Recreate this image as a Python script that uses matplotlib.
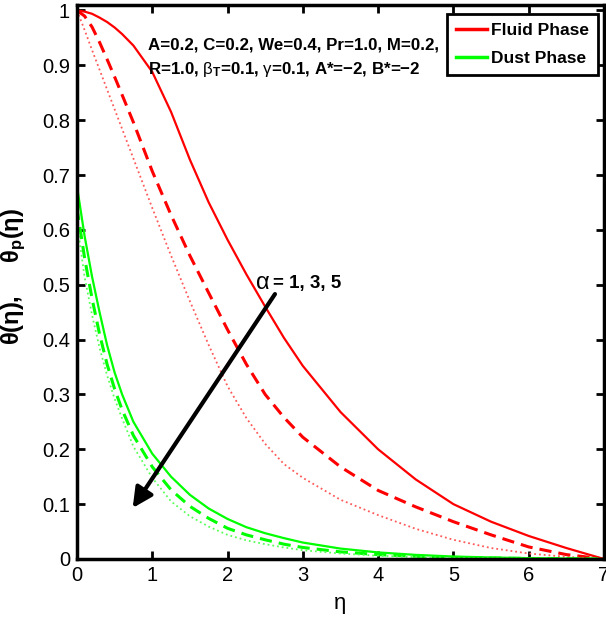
import matplotlib
matplotlib.use('Agg')
import matplotlib.pyplot as plt

plt.rcParams['font.family'] = ['Liberation Sans', 'DejaVu Sans']
plt.rcParams['mathtext.fontset'] = 'custom'
plt.rcParams['mathtext.rm'] = 'Liberation Sans'
plt.rcParams['mathtext.it'] = 'Liberation Sans'
plt.rcParams['mathtext.bf'] = 'Liberation Sans:bold'

# data
eta = [0, 0.1, 0.2, 0.3, 0.4, 0.5, 0.6, 0.75, 1, 1.25, 1.5, 1.75, 2, 2.25,
       2.5, 2.75, 3, 3.5, 4, 4.5, 5, 5.5, 6, 6.5, 7]

# fluid phase theta(eta), alpha = 1, 3, 5
fluid_a1 = [1.0, 0.998, 0.994, 0.987, 0.979, 0.969, 0.957, 0.936, 0.888, 0.815, 0.728,
            0.65, 0.582, 0.519, 0.46, 0.403, 0.352, 0.268, 0.2, 0.145, 0.10,
            0.068, 0.042, 0.02, 0.0]
fluid_a3 = [1.0, 0.99, 0.97, 0.942, 0.911, 0.879, 0.846, 0.796, 0.707, 0.627, 0.553,
            0.485, 0.418, 0.355, 0.3, 0.258, 0.222, 0.168, 0.125, 0.095, 0.068,
            0.044, 0.022, 0.008, 0.0]
fluid_a5 = [1.0, 0.965, 0.928, 0.892, 0.856, 0.82, 0.784, 0.73, 0.64, 0.553, 0.47,
            0.39, 0.315, 0.257, 0.21, 0.173, 0.148, 0.108, 0.08, 0.055, 0.035,
            0.02, 0.01, 0.004, 0.0]

# dust phase theta_p(eta), alpha = 1, 3, 5
dust_a1 = [0.68, 0.59, 0.515, 0.45, 0.39, 0.34, 0.3, 0.25, 0.192, 0.15, 0.117,
           0.092, 0.073, 0.058, 0.047, 0.038, 0.03, 0.019, 0.012, 0.0075, 0.0045,
           0.0028, 0.0016, 0.0008, 0.0]
dust_a3 = [0.64, 0.55, 0.475, 0.41, 0.355, 0.31, 0.272, 0.225, 0.168, 0.126, 0.096,
           0.074, 0.056, 0.044, 0.035, 0.027, 0.021, 0.013, 0.008, 0.005, 0.003,
           0.0018, 0.001, 0.0005, 0.0]
dust_a5 = [0.615, 0.515, 0.445, 0.385, 0.335, 0.292, 0.256, 0.205, 0.148, 0.105, 0.078,
           0.059, 0.044, 0.034, 0.027, 0.021, 0.016, 0.01, 0.006, 0.0035, 0.002,
           0.0012, 0.0007, 0.0003, 0.0]

fig = plt.figure(figsize=(6.06, 6.25), dpi=100)
ax = fig.add_axes([0.127, 0.1056, 0.8697, 0.8864])

red = (1, 0, 0)
green = (0, 1, 0)
ax.plot(eta, fluid_a1, '-', color=red, lw=1.6, label='Fluid Phase')
ax.plot(eta, fluid_a3, '--', color=red, lw=2.2, dashes=(4, 2.3))
ax.plot(eta, fluid_a5, ':', color=(1, 0.35, 0.35), lw=1.3)
ax.plot(eta, dust_a1, '-', color=green, lw=1.6, label='Dust Phase')
ax.plot(eta, dust_a3, '--', color=green, lw=2.2, dashes=(4, 2.3))
ax.plot(eta, dust_a5, ':', color=(0.35, 1, 0.35), lw=1.3)

ax.set_xlim(0, 7)
ax.set_ylim(0, 1.01)
ax.set_xticks(range(8))
ax.set_yticks([0, 0.1, 0.2, 0.3, 0.4, 0.5, 0.6, 0.7, 0.8, 0.9, 1])
ax.set_yticklabels(['0', '0.1', '0.2', '0.3', '0.4', '0.5', '0.6', '0.7', '0.8', '0.9', '1'])
ax.tick_params(direction='in', length=6, width=2, labelsize=14.5,
               top=True, right=True, pad=5)
for s in ax.spines.values():
    s.set_linewidth(2.5)

ax.set_xlabel('η', fontsize=16, labelpad=6)
ax.set_ylabel('θ(η),     θ$_\\mathbf{p}$(η)', fontsize=17, fontweight='bold')
ax.yaxis.set_label_coords(-0.093, 0.51)

ax.text(0.95, 0.937, 'A=0.2, C=0.2, We=0.4, Pr=1.0, M=0.2,', fontsize=12.2,
        fontweight='bold', va='center')
ax.text(0.95, 0.892, 'R=1.0, $\\beta_{\\mathbf{T}}$=0.1, $\\gamma$=0.1, A*=−2, B*=−2',
        fontsize=12.2, fontweight='bold', va='center')

ax.annotate('', xy=(0.74, 0.093), xytext=(2.63, 0.483),
            arrowprops=dict(arrowstyle='-|>', color='black', lw=3,
                            mutation_scale=30, shrinkA=0, shrinkB=0))
ax.text(2.38, 0.503, 'α', fontsize=17, va='center')
ax.text(2.61, 0.503, '= 1, 3, 5', fontsize=13.5, fontweight='bold', va='center')

leg = ax.legend(loc='upper right', prop={'weight': 'bold', 'size': 12.5},
                handlelength=1.8, handletextpad=0.25, borderpad=0.5,
                labelspacing=0.75, fancybox=False, framealpha=1,
                bbox_to_anchor=(0.9886, 0.984), borderaxespad=0)
leg.get_frame().set_edgecolor('black')
leg.get_frame().set_linewidth(2)
for h in leg.get_lines():
    h.set_linewidth(2.5)

fig.savefig('out.png', dpi=100)
